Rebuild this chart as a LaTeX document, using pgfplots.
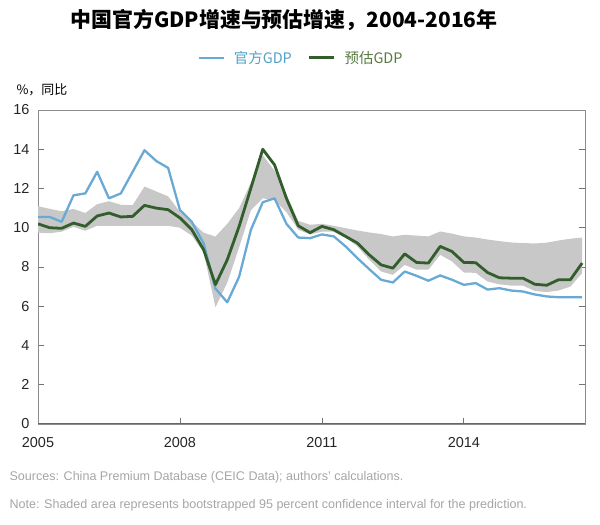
\documentclass[border=0pt]{standalone}
\usepackage{fontspec}
\setmainfont{Liberation Sans}
\newfontfamily\cjk{Noto Sans CJK SC}
\usepackage{pgfplots}
\usepackage{pgfplotstable}
\pgfplotsset{compat=1.18}
\usepgfplotslibrary{fillbetween}

\definecolor{offblue}{RGB}{104,170,212}
\definecolor{estgreen}{RGB}{50,94,44}
\definecolor{bandgray}{RGB}{200,200,200}
\definecolor{legblue}{RGB}{84,160,196}
\definecolor{leggreen}{RGB}{88,122,66}
\definecolor{foot}{RGB}{165,165,165}

\pgfplotstableread{
x blue green lo hi
2005.00 10.55 10.20 9.75 11.10
2005.25 10.55 10.00 9.72 10.96
2005.50 10.30 9.97 9.80 10.84
2005.75 11.65 10.24 10.05 10.96
2006.00 11.75 10.07 9.85 10.75
2006.25 12.85 10.60 10.10 11.20
2006.50 11.50 10.75 10.10 11.35
2006.75 11.75 10.55 10.10 11.17
2007.00 12.85 10.58 10.10 11.15
2007.25 13.95 11.14 10.10 12.10
2007.50 13.40 11.00 10.10 11.85
2007.75 13.05 10.92 10.10 11.60
2008.00 10.90 10.50 10.00 10.80
2008.25 10.30 9.90 9.60 10.30
2008.50 9.20 8.88 8.75 9.75
2008.75 6.90 7.10 5.95 9.55
2009.00 6.20 8.37 7.20 10.20
2009.25 7.50 10.07 9.00 11.00
2009.50 9.90 12.03 10.90 12.30
2009.75 11.30 14.00 11.50 13.70
2010.00 11.50 13.20 11.40 12.90
2010.25 10.20 11.50 10.80 11.70
2010.50 9.50 10.10 9.90 10.35
2010.75 9.47 9.75 9.65 10.15
2011.00 9.66 10.07 9.80 10.20
2011.25 9.56 9.90 9.80 10.10
2011.50 9.05 9.56 9.50 9.98
2011.75 8.45 9.22 9.05 9.86
2012.00 7.89 8.62 8.37 9.76
2012.25 7.35 8.11 7.77 9.68
2012.50 7.21 7.94 7.60 9.56
2012.75 7.77 8.67 8.11 9.64
2013.00 7.55 8.23 7.86 9.60
2013.25 7.30 8.20 7.86 9.56
2013.50 7.57 9.05 8.62 9.81
2013.75 7.35 8.79 8.28 9.70
2014.00 7.09 8.23 7.72 9.56
2014.25 7.18 8.22 7.70 9.50
2014.50 6.85 7.72 7.26 9.40
2014.75 6.92 7.45 7.12 9.32
2015.00 6.80 7.43 7.05 9.25
2015.25 6.75 7.43 7.05 9.22
2015.50 6.60 7.12 6.78 9.20
2015.75 6.50 7.07 6.72 9.24
2016.00 6.46 7.35 6.80 9.35
2016.25 6.46 7.35 7.00 9.44
2016.50 6.46 8.20 7.69 9.50
}\gdp

\begin{document}
\begin{tikzpicture}
\path (0,0) rectangle (600bp,525bp);
\node at (284bp,505bp) {\cjk\bfseries\fontsize{21}{21}\selectfont 中国官方GDP增速与预估增速，2004-2016年};
\node[anchor=west] at (13bp,435bp) {\cjk\fontsize{13}{13}\selectfont \%，同比};
\node[anchor=west, text=foot] at (6bp,48bp) {\fontsize{12.6}{12.6}\selectfont Sources: China Premium Database (CEIC Data); authors' calculations.};
\node[anchor=west, text=foot] at (6bp,20bp) {\fontsize{12.6}{12.6}\selectfont Note: Shaded area represents bootstrapped 95 percent confidence interval for the prediction.};
\begin{axis}[
  at={(38bp,101bp)}, anchor=south west,
  scale only axis, width=547bp, height=314bp,
  xmin=2005, xmax=2016.56, ymin=0, ymax=16,
  xtick={2005,2008,2011,2014},
  xticklabels={2005,2008,2011,2014},
  ytick={0,2,...,16},
  xtick pos=bottom, ytick pos=both, yticklabel pos=left,
  tick align=inside,
  major tick length=6bp,
  tick style={black!55, line width=0.8bp},
  axis line style={black!45, line width=0.9bp},
  ticklabel style={font=\fontsize{14.5}{14.5}\selectfont, text=black!85},
  /pgf/number format/assume math mode=true,
  xticklabel style={yshift=-10bp},
  yticklabel style={xshift=-5bp},
  legend style={at={(0.481,1.166)}, anchor=center, draw=none, fill=none,
    font=\cjk\fontsize{14.5}{15}\selectfont,
    /tikz/every even column/.append style={column sep=14bp},
    /tikz/every odd column/.append style={column sep=0bp}},
  legend columns=2,
  legend image code/.code={\draw[#1] (0bp,0bp) -- (25bp,0bp);},
  legend cell align=left,
]
\addplot[name path=hi, draw=none, forget plot] table[x=x,y=hi]{\gdp};
\addplot[name path=lo, draw=none, forget plot] table[x=x,y=lo]{\gdp};
\addplot[fill=bandgray, draw=none, forget plot] fill between[of=hi and lo];
\addplot[offblue, line width=2.3bp, line join=round] table[x=x,y=blue]{\gdp};
\addlegendentry{\hspace{7bp}\textcolor{legblue}{官方GDP}}
\addplot[estgreen, line width=2.8bp, line join=round] table[x=x,y=green]{\gdp};
\addlegendentry{\hspace{7bp}\textcolor{leggreen}{预估GDP}}
\draw[black!60, line width=1.1bp] (rel axis cs:0,0) -- (rel axis cs:1,0);
\end{axis}
\end{tikzpicture}
\end{document}
